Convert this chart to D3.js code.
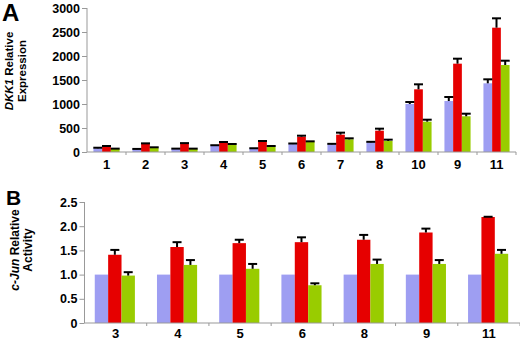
<!DOCTYPE html>
<html><head><meta charset="utf-8">
<script src="https://cdn.jsdelivr.net/npm/d3@7"></script>
<style>
html,body{margin:0;padding:0;background:#fff;}
svg{display:block;font-family:"Liberation Sans",Arial,Helvetica,sans-serif;}
</style></head>
<body>
<script>
// ---------- Panel A data ----------
const catsA = ["1","2","3","4","5","6","7","8","10","9","11"];
const blueA = [77, 56, 62, 131, 70, 165, 160, 202, 1000, 1062, 1431];
const blueErrA = [12, 8, 8, 10, 8, 12, 10, 10, 42, 84, 83];
const redA = [110, 167, 167, 194, 215, 319, 361, 444, 1306, 1840, 2590];
const redErrA = [15, 13, 18, 14, 14, 21, 42, 42, 104, 104, 195];
const greenA = [62, 90, 62, 153, 111, 208, 264, 229, 632, 744, 1812];
const greenErrA = [8, 8, 8, 14, 14, 14, 21, 28, 41, 54, 90];
const ticksA = [0, 500, 1000, 1500, 2000, 2500, 3000];

// ---------- Panel B data ----------
const catsB = ["3","4","5","6","8","9","11"];
const blueB = [1, 1, 1, 1, 1, 1, 1];
const redB = [1.41, 1.57, 1.65, 1.67, 1.72, 1.87, 2.19];
const redErrB = [0.10, 0.10, 0.07, 0.10, 0.10, 0.08, 0.005];
const greenB = [0.98, 1.20, 1.12, 0.78, 1.22, 1.22, 1.43];
const greenErrB = [0.07, 0.10, 0.10, 0.04, 0.09, 0.08, 0.08];
const ticksB = [0, 0.5, 1.0, 1.5, 2.0, 2.5];
const tickLabelsB = ["0", "0.5", "1.0", "1.5", "2.0", "2.5"];

const seriesNames = ["blue", "red", "green"];
const colors = {blue: "#9e9ef2", red: "#e60000", green: "#99cc00"};

const svg = d3.select("body").append("svg").attr("width", 520).attr("height", 342);

function panel(opt) {
  const g = svg.append("g");
  const x0 = d3.scaleBand().domain(opt.cats).range([opt.x0, opt.x1]).padding(0);
  const bw = x0.bandwidth();
  const x1 = d3.scaleBand().domain(seriesNames).range([bw * opt.gL, bw * opt.gR]).padding(0);
  const y = d3.scaleLinear().domain([0, opt.max]).range([opt.yb, opt.yt]);

  const rows = opt.cats.map((c, i) => ({
    cat: c,
    vals: seriesNames.map(s => ({s, v: opt.data[s][i], e: opt.err[s] ? opt.err[s][i] : 0}))
  }));

  const grp = g.selectAll("g.grp").data(rows).join("g")
    .attr("transform", d => `translate(${x0(d.cat)},0)`);
  grp.selectAll("rect").data(d => d.vals).join("rect")
    .attr("x", d => x1(d.s)).attr("width", x1.bandwidth())
    .attr("y", d => y(d.v)).attr("height", d => y(0) - y(d.v))
    .attr("fill", d => colors[d.s]);
  // error bars (upper only)
  const eb = grp.selectAll("g.eb").data(d => d.vals.filter(v => v.e > 0)).join("g");
  eb.append("line")
    .attr("x1", d => x1(d.s) + x1.bandwidth() / 2).attr("x2", d => x1(d.s) + x1.bandwidth() / 2)
    .attr("y1", d => y(d.v)).attr("y2", d => y(d.v + d.e))
    .attr("stroke", "#000").attr("stroke-width", 2);
  eb.append("line")
    .attr("x1", d => x1(d.s) + x1.bandwidth() / 2 - opt.cap / 2)
    .attr("x2", d => x1(d.s) + x1.bandwidth() / 2 + opt.cap / 2)
    .attr("y1", d => y(d.v + d.e)).attr("y2", d => y(d.v + d.e))
    .attr("stroke", "#000").attr("stroke-width", 2);

  // Y axis
  const ya = d3.axisLeft(y).tickValues(opt.ticks).tickSize(5).tickPadding(2)
    .tickFormat((d, i) => opt.tickLabels ? opt.tickLabels[i] : d);
  const yg = g.append("g").attr("transform", `translate(${opt.x0},0)`).call(ya);
  yg.select(".domain").attr("stroke", "#999").attr("d", `M0,${opt.yt}V${opt.yb}`);
  yg.selectAll(".tick line").attr("stroke", "#999");
  yg.selectAll(".tick text").attr("fill", "#000").attr("font-weight", "bold")
    .attr("font-size", opt.tickFont).attr("font-family", "Liberation Sans, Arial, sans-serif");

  // X axis
  const xa = d3.axisBottom(x0).tickSize(0).tickPadding(opt.xPad);
  const xg = g.append("g").attr("transform", `translate(0,${opt.yb})`).call(xa);
  xg.select(".domain").attr("stroke", "#999").attr("d", `M${opt.x0},0H${opt.x1}`);
  xg.selectAll(".tick text").attr("fill", "#000").attr("font-weight", "bold")
    .attr("font-size", opt.catFont).attr("font-family", "Liberation Sans, Arial, sans-serif");
  // boundary ticks
  g.append("g").selectAll("line").data(opt.cats).join("line")
    .attr("x1", d => x0(d) + bw).attr("x2", d => x0(d) + bw)
    .attr("y1", opt.yb).attr("y2", opt.yb + 3)
    .attr("stroke", "#999");

  // panel letter
  g.append("text").attr("x", opt.letterX).attr("y", opt.letterY)
    .attr("font-size", opt.letterSize).attr("font-weight", "bold").text(opt.letter);

  // y title
  const cy = opt.titleY;
  const t1 = g.append("text").attr("transform", `translate(${opt.titleX1},${cy}) rotate(-90)`)
    .attr("text-anchor", "middle").attr("font-size", opt.titleSize).attr("font-weight", "bold");
  t1.append("tspan").attr("font-style", "italic").text(opt.titleItalic);
  t1.append("tspan").text(" Relative");
  g.append("text").attr("transform", `translate(${opt.titleX2},${cy}) rotate(-90)`)
    .attr("text-anchor", "middle").attr("font-size", opt.titleSize).attr("font-weight", "bold")
    .text(opt.title2);
}

panel({
  cats: catsA, data: {blue: blueA, red: redA, green: greenA},
  err: {blue: blueErrA, red: redErrA, green: greenErrA},
  x0: 87, x1: 516, yt: 8, yb: 152, max: 3000, ticks: ticksA,
  gL: 0.165, gR: 0.835, cap: 9, tickFont: 12.5, catFont: 13, xPad: 8,
  letter: "A", letterX: 2, letterY: 21, letterSize: 24,
  titleItalic: "DKK1", title2: "Expression", titleX1: 13, titleX2: 26, titleY: 71, titleSize: 11.5
});

panel({
  cats: catsB, data: {blue: blueB, red: redB, green: greenB},
  err: {red: redErrB, green: greenErrB},
  x0: 84.5, x1: 520, yt: 202, yb: 323, max: 2.5, ticks: ticksB, tickLabels: tickLabelsB,
  gL: 0.165, gR: 0.81, cap: 9, tickFont: 12.5, catFont: 13, xPad: 6,
  letter: "B", letterX: 6, letterY: 205, letterSize: 21,
  titleItalic: "c-Jun", title2: "Activity", titleX1: 19, titleX2: 32, titleY: 250, titleSize: 12
});
</script>
</body></html>
